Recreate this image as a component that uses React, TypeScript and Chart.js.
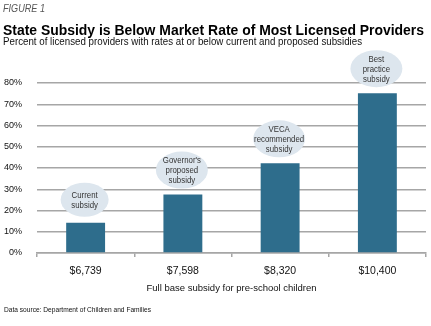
import React, { useEffect, useRef } from "react";
import { Chart, registerables } from "chart.js";

Chart.register(...registerables);

const categories = ["$6,739", "$7,598", "$8,320", "$10,400"];
const percentOfProviders = [14.2, 27.5, 42.2, 75.2];
const bubbleLabels = [
  ["Current", "subsidy"],
  ["Governor's", "proposed", "subsidy"],
  ["VECA", "recommended", "subsidy"],
  ["Best", "practice", "subsidy"],
];
const yTicks = [0, 10, 20, 30, 40, 50, 60, 70, 80];
const figureLabel = "FIGURE 1";
const titleText = "State Subsidy is Below Market Rate of Most Licensed Providers";
const subtitleText = "Percent of licensed providers with rates at or below current and proposed subsidies";
const xAxisTitle = "Full base subsidy for pre-school children";
const sourceText = "Data source: Department of Children and Families";

const FONT = "'Liberation Sans', Arial, sans-serif";

function fitText(ctx: CanvasRenderingContext2D, text: string, x: number, y: number, width: number | null, font: string, color: string, align: "left" | "center" = "left", sx = 1) {
  ctx.save();
  ctx.font = font;
  ctx.fillStyle = color;
  ctx.textBaseline = "alphabetic";
  const w = ctx.measureText(text).width;
  const scale = width ? width / w : sx;
  ctx.translate(x, y);
  ctx.scale(scale, 1);
  ctx.textAlign = align;
  ctx.fillText(text, 0, 0);
  ctx.restore();
}

const decorPlugin = {
  id: "decor",
  afterDraw(chart: any) {
    const ctx: CanvasRenderingContext2D = chart.ctx;
    fitText(ctx, figureLabel, 3, 12, 42, `italic 10px ${FONT}`, "#555");
    fitText(ctx, titleText, 3, 34.5, 421, `bold 14px ${FONT}`, "#000");
    fitText(ctx, subtitleText, 3, 44.5, 359, `11.5px ${FONT}`, "#111");
    fitText(ctx, sourceText, 4, 312, 147, `7.5px ${FONT}`, "#111");

    const meta = chart.getDatasetMeta(0);
    meta.data.forEach((bar: any, i: number) => {
      const lines = bubbleLabels[i];
      const h = lines.length === 2 ? 34 : 37;
      const w = lines.length === 2 ? 48 : 52;
      const cx = bar.x - 1;
      const cy = bar.y - 6 - h / 2;
      ctx.save();
      ctx.beginPath();
      ctx.ellipse(cx, cy, w / 2, h / 2, 0, 0, Math.PI * 2);
      ctx.fillStyle = "#dde6ee";
      ctx.fill();
      ctx.restore();
      const lh = 10;
      const startY = cy - ((lines.length - 1) * lh) / 2 + 3.2;
      lines.forEach((ln, j) => {
        fitText(ctx, ln, cx, startY + j * lh, null, `9px ${FONT}`, "#333", "center", 0.87);
      });
    });
  },
};

export default function App() {
  const ref = useRef<HTMLCanvasElement | null>(null);
  useEffect(() => {
    if (!ref.current) return;
    const chart = new Chart(ref.current, {
      type: "bar",
      data: {
        labels: categories,
        datasets: [
          {
            data: percentOfProviders,
            backgroundColor: "#2e6d8c",
            categoryPercentage: 1,
            barPercentage: 0.4,
          },
        ],
      },
      options: {
        animation: false,
        responsive: false,
        events: [],
        layout: { padding: { top: 83, left: 0, right: 5, bottom: 0 } },
        plugins: { legend: { display: false }, tooltip: { enabled: false } },
        scales: {
          x: {
            afterFit: (s: any) => { s.height = 73; },
            grid: { offset: true, drawOnChartArea: false, drawTicks: true, tickLength: 4, color: "#a6a6a6", lineWidth: 1.5 },
            border: { display: true, color: "#a6a6a6", width: 1.5 },
            ticks: { padding: 8, color: "#111", font: { family: FONT, size: 10.5 } },
            title: { display: true, text: xAxisTitle, color: "#111", font: { family: FONT, size: 9.5 }, padding: { top: 0, bottom: 32 } },
          },
          y: {
            min: 0,
            max: 80,
            afterFit: (s: any) => { s.width = 37; },
            afterBuildTicks: (s: any) => { s.ticks = yTicks.map((v) => ({ value: v })); },
            grid: { drawTicks: false, color: "#a6a6a6", lineWidth: 1.5 },
            border: { display: false },
            ticks: { padding: 15, color: "#111", font: { family: FONT, size: 9 }, callback: (v: any) => `${v}%` },
          },
        },
      },
      plugins: [decorPlugin],
    });
    return () => chart.destroy();
  }, []);
  return (
    <div style={{ position: "absolute", left: 0, top: 0, width: 431, height: 326, background: "#fff" }}>
      <canvas ref={ref} width={431} height={326} style={{ display: "block", width: 431, height: 326 }} />
    </div>
  );
}
